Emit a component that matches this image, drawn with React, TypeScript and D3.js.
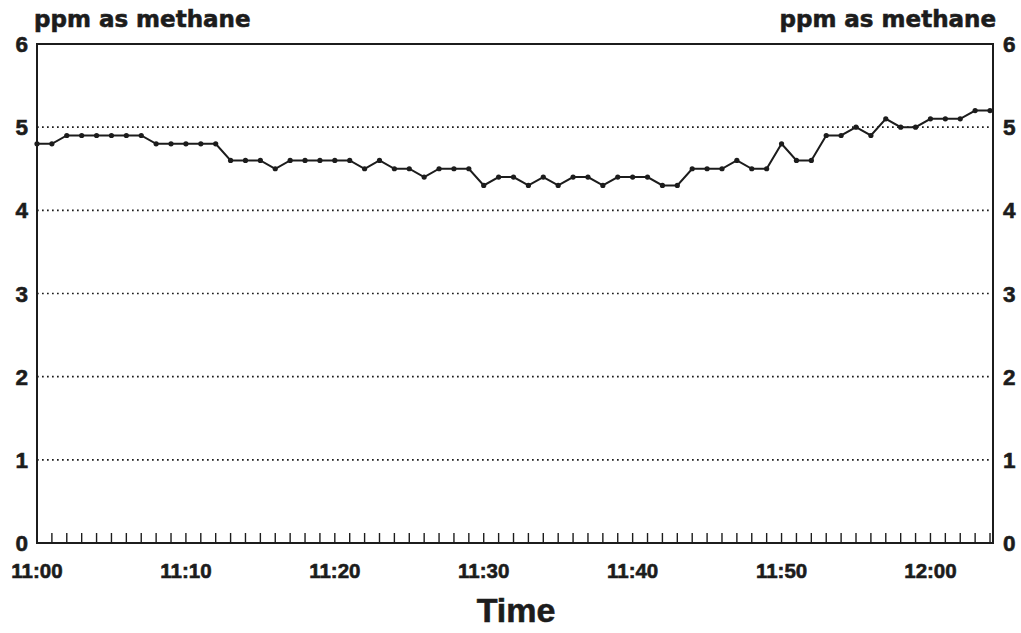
import React from "react";
import * as d3 from "d3";

const minutes: number[] = d3.range(0, 65);
const ppm: number[] = [
  4.8, 4.8, 4.9, 4.9, 4.9, 4.9, 4.9, 4.9, 4.8, 4.8,
  4.8, 4.8, 4.8, 4.6, 4.6, 4.6, 4.5, 4.6, 4.6, 4.6,
  4.6, 4.6, 4.5, 4.6, 4.5, 4.5, 4.4, 4.5, 4.5, 4.5,
  4.3, 4.4, 4.4, 4.3, 4.4, 4.3, 4.4, 4.4, 4.3, 4.4,
  4.4, 4.4, 4.3, 4.3, 4.5, 4.5, 4.5, 4.6, 4.5, 4.5,
  4.8, 4.6, 4.6, 4.9, 4.9, 5.0, 4.9, 5.1, 5.0, 5.0,
  5.1, 5.1, 5.1, 5.2, 5.2,
];
const xTickMinutes: number[] = [0, 10, 20, 30, 40, 50, 60];
const xTickLabels: string[] = ["11:00", "11:10", "11:20", "11:30", "11:40", "11:50", "12:00"];
const yTicks: number[] = [0, 1, 2, 3, 4, 5, 6];
const gridValues: number[] = [1, 2, 3, 4, 5];

const W = 1021;
const H = 633;
const LEFT = 37;
const RIGHT = 993;
const TOP = 44;
const BOTTOM = 543;
const INK = "#1c1c1c";

export default function App() {
  const x = d3.scaleLinear().domain([0, 64.2]).range([LEFT, RIGHT]);
  const y = d3.scaleLinear().domain([0, 6]).range([BOTTOM, TOP]);
  const line = d3
    .line<number>()
    .x((_, i) => x(minutes[i]))
    .y((d) => y(d));

  const tickFont = "'Liberation Sans', Arial, sans-serif";
  const heavy = { stroke: INK, strokeWidth: 0.6 } as const;

  return (
    <svg
      width={W}
      height={H}
      style={{ position: "absolute", left: 0, top: 0, background: "#fff" }}
    >
      {/* grid */}
      {gridValues.map((g) => (
        <line
          key={"g" + g}
          x1={LEFT}
          x2={RIGHT}
          y1={y(g)}
          y2={y(g)}
          stroke={INK}
          strokeWidth={1.7}
          strokeDasharray="1.7 3.3"
        />
      ))}
      {/* frame */}
      <rect
        x={LEFT}
        y={TOP}
        width={RIGHT - LEFT}
        height={BOTTOM - TOP}
        fill="none"
        stroke={INK}
        strokeWidth={2}
      />
      {/* minor x ticks */}
      {minutes.slice(1).map((m) => (
        <line
          key={"t" + m}
          x1={x(m)}
          x2={x(m)}
          y1={BOTTOM}
          y2={BOTTOM - 10}
          stroke={INK}
          strokeWidth={1.4}
        />
      ))}
      {/* x labels */}
      {xTickMinutes.map((m, i) => (
        <text
          key={"xl" + m}
          x={x(m)}
          y={578}
          textAnchor="middle"
          fontFamily={tickFont}
          fontWeight="bold"
          fontSize={20.5}
          fill={INK}
          {...heavy}
        >
          {xTickLabels[i]}
        </text>
      ))}
      {/* y labels */}
      {yTicks.map((v) => (
        <g key={"yl" + v}>
          <text
            x={28}
            y={y(v) + 8}
            textAnchor="end"
            fontFamily={tickFont}
            fontWeight="bold"
            fontSize={22.5}
            fill={INK}
            {...heavy}
          >
            {v}
          </text>
          <text
            x={1003}
            y={y(v) + 8}
            textAnchor="start"
            fontFamily={tickFont}
            fontWeight="bold"
            fontSize={22.5}
            fill={INK}
            {...heavy}
          >
            {v}
          </text>
        </g>
      ))}
      {/* axis titles */}
      <text
        x={34}
        y={27}
        fontFamily="'DejaVu Sans', sans-serif"
        fontWeight="bold"
        fontSize={23}
        fill={INK}
        {...heavy}
      >
        ppm as methane
      </text>
      <text
        x={996}
        y={27}
        textAnchor="end"
        fontFamily="'DejaVu Sans', sans-serif"
        fontWeight="bold"
        fontSize={23}
        fill={INK}
        {...heavy}
      >
        ppm as methane
      </text>
      <text
        x={516}
        y={622}
        textAnchor="middle"
        fontFamily={tickFont}
        fontWeight="bold"
        fontSize={34}
        fill={INK}
        {...heavy}
      >
        Time
      </text>
      {/* data line */}
      <path d={line(ppm) || ""} fill="none" stroke={INK} strokeWidth={2} />
      {ppm.map((v, i) => (
        <circle key={"p" + i} cx={x(minutes[i])} cy={y(v)} r={2.6} fill={INK} />
      ))}
    </svg>
  );
}
